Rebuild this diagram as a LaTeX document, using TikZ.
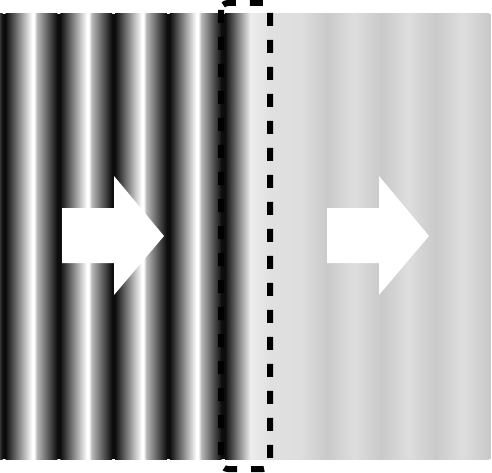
\documentclass[tikz,border=0pt]{standalone}
\begin{document}
\begin{tikzpicture}[x=1pt, y=-1pt,
  pfeil/.style={fill=white, draw=none},
  rahmen/.style={draw=black, line width=6pt, dash pattern=on 13pt off 14pt, rounded corners=7pt}]
  \useasboundingbox (0,0) rectangle (492,473);

  % linker Bereich: Gitter mit hohem Kontrast
  \shade[left color=black!80, right color=black!95] (0,14) rectangle (2.6,459);
  \foreach \c in {4,58.75,113.5,168.25} {
    \fill[black!95] (\c-1.5,14) rectangle (\c+1.6,459);
    \shade[left color=black!95, right color=white] (\c+1.5,14) rectangle (\c+28.1,459);
    \fill[white] (\c+28,14) rectangle (\c+30.1,459);
    \shade[left color=white, right color=black!28] (\c+30,14) rectangle (\c+33.1,459);
    \shade[left color=black!28, right color=black!95] (\c+33,14) rectangle (\c+53.35,459);
  }

  % mittlerer Streifen
  \fill[black!95] (221,14) rectangle (225.1,459);
  \shade[left color=black!95, right color=black!7] (225,14) rectangle (250.1,459);
  \shade[left color=black!7, right color=black!12] (250,14) rectangle (270.1,459);

  % rechter Bereich: schwaches Gitter
  \shade[left color=black!12, right color=black!13] (270,14) rectangle (300.1,459);
  \foreach \c in {327,381,435} {
    \shade[left color=black!13, right color=black!21] (\c-27,14) rectangle (\c+0.1,459);
    \shade[left color=black!21, right color=black!13] (\c,14) rectangle (\c+27.1,459);
  }
  \shade[left color=black!13, right color=black!21] (462,14) rectangle (489.1,459);
  \fill[black!21] (489,14) rectangle (491,459);

  % Pfeile
  \foreach \dx in {0,265} {
    \fill[pfeil] (62+\dx,208) -- (114+\dx,208) -- (114+\dx,176) -- (164+\dx,236)
      -- (114+\dx,295) -- (114+\dx,263) -- (62+\dx,263) -- cycle;
  }

  % gestrichelter Rahmen
  \draw[rahmen] (221,3) rectangle (270,469);
\end{tikzpicture}
\end{document}
